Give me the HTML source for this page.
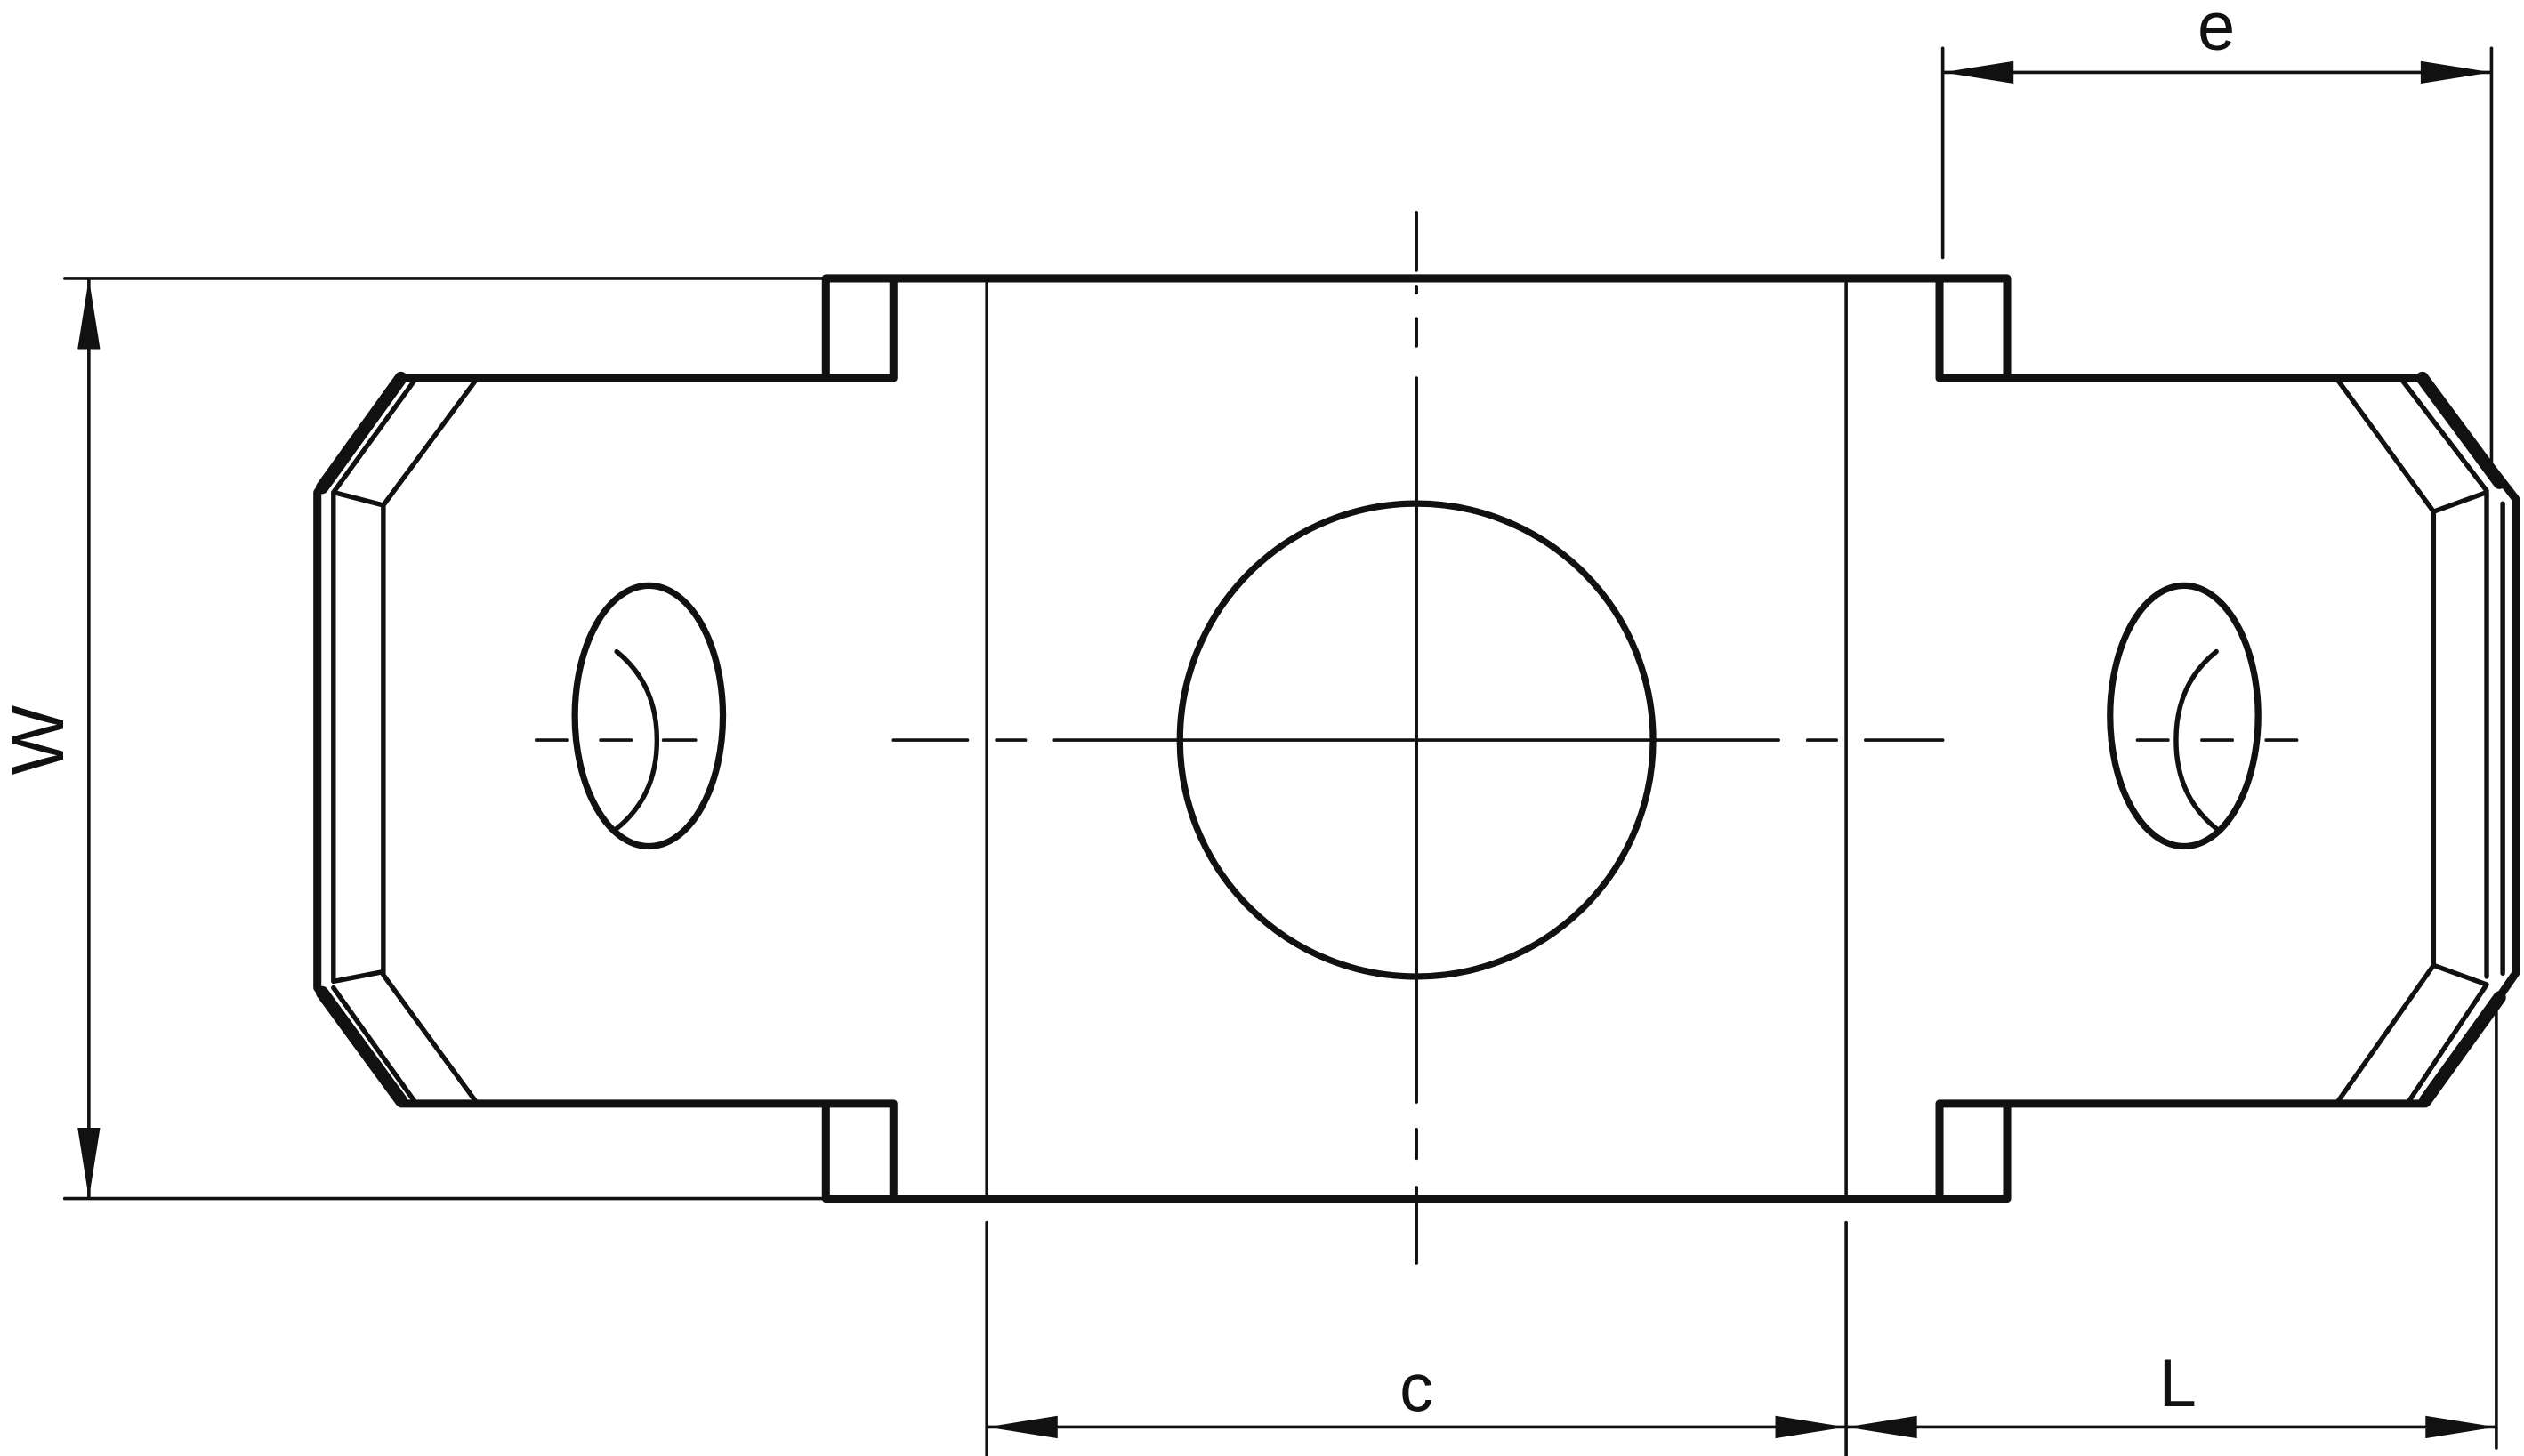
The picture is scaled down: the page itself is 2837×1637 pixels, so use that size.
<!DOCTYPE html>
<html><head><meta charset="utf-8"><style>
html,body{margin:0;padding:0;background:#fff;width:2837px;height:1637px;overflow:hidden}
svg{display:block}
text{font-family:"Liberation Sans",sans-serif;fill:#111}
</style></head><body>
<svg width="2837" height="1637" viewBox="0 0 1568 905" xmlns="http://www.w3.org/2000/svg">
<g fill="none" stroke="#111" stroke-linejoin="round" stroke-linecap="round">
<!-- outer body thick -->
<path stroke-width="5" d="M513,173 H1247 V235 M1205,235 H1505 L1563,310 V605 L1507,686 H1205 V745 M1247,745 H513 V686 H249 L197,614 V306 L249,235 H555 V173 M513,173 V235 H555 M1205,173 V235 M1247,745 V686 M555,745 V686 M513,686 H555"/>
<path stroke-width="8" d="M249,235 L200,303 M200,617 L249,684 M1505,235 L1553,300 M1553,620 L1507,684"/>
<!-- left inner -->
<path stroke-width="3" d="M257,237 L207,306 M295,237 L238,314 M207,306 L238,314 V606 M207,306 V610 L238,604 M238,606 L295,684 M207,614 L257,684"/>
<!-- right inner -->
<path stroke-width="3" d="M1453,237 L1512,318 M1493,237 L1545,305 M1512,318 L1545,306 M1512,318 V600 M1545,306 V607 M1512,600 L1545,612 M1453,684 L1512,600 M1497,684 L1545,612 M1555,313 V605"/>
<!-- vertical lines -->
<path stroke-width="2" d="M613,176 V743 M1147,176 V743"/>
<!-- circle -->
<circle cx="880" cy="460" r="147" stroke-width="4"/>
<!-- small ellipses -->
<ellipse cx="403" cy="445" rx="46" ry="81" stroke-width="4"/>
<path stroke-width="3" d="M383,405 Q408,425 408,460 Q408,495 383,515"/>
<ellipse cx="1357" cy="445" rx="46" ry="81" stroke-width="4"/>
<path stroke-width="3" d="M1377,405 Q1352,425 1352,460 Q1352,495 1377,515"/>
<!-- centerlines -->
<path stroke-width="2" d="M880,132 V168 M880,178 V182 M880,198 V215 M880,235 V685 M880,702 V720 M880,738 V785"/>
<path stroke-width="2" d="M333,460 H352 M373,460 H392 M412,460 H432 M555,460 H601 M619,460 H637 M655,460 H1105 M1123,460 H1141 M1159,460 H1207 M1328,460 H1347 M1368,460 H1387 M1408,460 H1427"/>
<!-- dimension lines -->
<path stroke-width="2" d="M40,173 H513 M40,745 H513 M55,173 V745 M1207,30 V160 M1548,30 V290 M1207,45 H1548 M613,760 V905 M1147,760 V905 M613,887 H1551 M1551,625 V900"/>
</g>
<g fill="#111">
<polygon points="55,173 48,217 62,217"/>
<polygon points="55,745 48,701 62,701"/>
<polygon points="1207,45 1251,38 1251,52"/>
<polygon points="1548,45 1504,38 1504,52"/>
<polygon points="613,887 657,880 657,894"/>
<polygon points="1147,887 1103,880 1103,894"/>
<polygon points="1147,887 1191,880 1191,894"/>
<polygon points="1551,887 1507,880 1507,894"/>
</g>
<text x="1377" y="31" font-size="42" text-anchor="middle">e</text>
<text x="880" y="877" font-size="42" text-anchor="middle">c</text>
<text x="1353" y="874" font-size="42" text-anchor="middle">L</text>
<text x="0" y="0" font-size="46" text-anchor="middle" transform="translate(39,460) rotate(-90)">W</text>
</svg>
</body></html>
